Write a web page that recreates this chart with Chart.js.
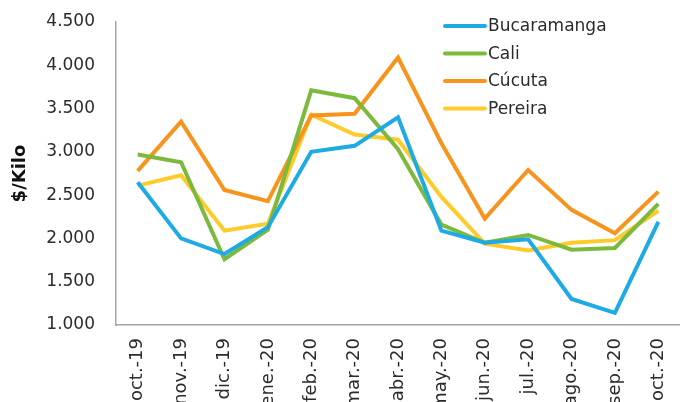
<!DOCTYPE html>
<html lang="es">
<head>
    <meta charset="UTF-8">
    <title>Precio $/Kilo</title>
    <script src="https://cdn.jsdelivr.net/npm/chart.js"></script>
    <style>
        html, body { margin: 0; padding: 0; background: #fff; }
        #wrap { width: 680px; height: 402px; position: relative; }
    </style>
</head>
<body>
    <div id="wrap"><canvas id="grafico"></canvas></div>

    <script>
    const meses = ['oct.-19', 'nov.-19', 'dic.-19', 'ene.-20', 'feb.-20', 'mar.-20', 'abr.-20',
                   'may.-20', 'jun.-20', 'jul.-20', 'ago.-20', 'sep.-20', 'oct.-20'];
    const bucaramanga = [2650, 2000, 1820, 2130, 3000, 3070, 3400, 2090, 1950, 1990, 1300, 1140, 2190];
    const cali        = [2970, 2880, 1760, 2100, 3710, 3620, 3030, 2160, 1950, 2040, 1870, 1890, 2400];
    const cucuta      = [2780, 3350, 2560, 2430, 3420, 3440, 4090, 3100, 2230, 2790, 2330, 2060, 2540];
    const pereira     = [2610, 2730, 2090, 2170, 3430, 3200, 3140, 2480, 1940, 1860, 1950, 1980, 2320];
    const yTicks = [1000, 1500, 2000, 2500, 3000, 3500, 4000, 4500];

    const fuente = '"DejaVu Sans", sans-serif';
    const texto = '#2b2b2b';

    // leyenda dibujada a mano dentro del área del gráfico (arriba a la derecha)
    const leyenda = {
        id: 'leyenda',
        afterDraw(chart) {
            const ctx = chart.ctx;
            ctx.save();
            ctx.font = '17px ' + fuente;
            ctx.fillStyle = texto;
            ctx.textBaseline = 'middle';
            chart.data.datasets.forEach((ds, i) => {
                const y = 26 + i * 27.5;
                ctx.strokeStyle = ds.borderColor;
                ctx.lineWidth = 4;
                ctx.lineCap = 'round';
                ctx.beginPath();
                ctx.moveTo(445, y);
                ctx.lineTo(485, y);
                ctx.stroke();
                ctx.fillText(ds.label, 488, y + 1);
            });
            ctx.restore();
        }
    };

    const serie = (label, data, color) => ({
        label, data, borderColor: color, backgroundColor: color,
        borderWidth: 4, pointRadius: 0, tension: 0, fill: false
    });

    new Chart(document.getElementById('grafico'), {
        type: 'line',
        data: {
            labels: meses,
            datasets: [
                serie('Bucaramanga', bucaramanga, '#1eabe3'),
                serie('Cali', cali, '#7cb93c'),
                serie('Cúcuta', cucuta, '#f7941d'),
                serie('Pereira', pereira, '#ffcb2a')
            ]
        },
        options: {
            responsive: true,
            maintainAspectRatio: false,
            animation: false,
            layout: { padding: { top: 22, right: 0, left: 0, bottom: 0 } },
            plugins: {
                legend: { display: false },
                tooltip: { enabled: false }
            },
            scales: {
                x: {
                    offset: true,
                    grid: { display: false, drawTicks: false },
                    border: { color: '#a6a6a6', width: 1.5 },
                    ticks: {
                        color: texto,
                        font: { family: fuente, size: 18 },
                        minRotation: 90, maxRotation: 90,
                        padding: 13
                    },
                    afterFit(s) { s.height = 77; s.paddingLeft = 0; s.paddingRight = 0; }
                },
                y: {
                    min: 1000, max: 4500,
                    afterBuildTicks(s) { s.ticks = yTicks.map(v => ({ value: v })); },
                    grid: { display: false, drawTicks: false },
                    border: { color: '#a6a6a6', width: 1.5 },
                    ticks: {
                        color: texto,
                        font: { family: fuente, size: 17 },
                        padding: 21,
                        callback: v => v.toLocaleString('de-DE')
                    },
                    title: {
                        display: true,
                        text: '$/Kilo',
                        color: '#111',
                        font: { family: fuente, size: 18, weight: 'bold' },
                        padding: { top: 10, bottom: 0 }
                    },
                    afterFit(s) { s.width = 116; s.paddingTop = 0; s.paddingBottom = 0; }
                }
            }
        },
        plugins: [leyenda]
    });
    </script>
</body>
</html>
